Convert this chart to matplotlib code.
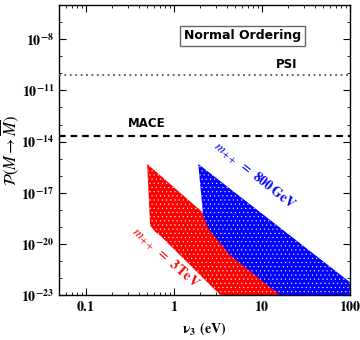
import numpy as np
import matplotlib
matplotlib.use("Agg")
import matplotlib.pyplot as plt
from matplotlib.ticker import FixedLocator, FuncFormatter, NullFormatter

plt.rcParams['mathtext.fontset'] = 'stix'
plt.rcParams['font.family'] = 'DejaVu Sans'
plt.rcParams['hatch.linewidth'] = 0.3

# boundaries of the allowed regions (v3 in eV, P)
red_v3 = [0.50, 0.54, 0.62, 0.70, 1.54, 2.74, 3.4, 25.0, 1.85]
red_P = [10**-15.31, 10**-18.92, 10**-19.3, 10**-19.5, 10**-21.25, 10**-22.53,
         1e-23, 1e-23, 10**-17.87]

blue_v3 = [1.9, 2.16, 2.47, 4.39, 16.2, 100, 100]
blue_P = [10**-15.31, 10**-18.34, 10**-19.1, 10**-20.67, 1e-23, 1e-23, 10**-22.24]

psi_bound = 8.5e-11
mace_bound = 2.1e-14

fig = plt.figure(figsize=(3.6, 3.4), dpi=100)
ax = fig.add_axes([0.164, 0.132, 0.808, 0.853])

ax.fill(red_v3, red_P, facecolor='#ff0000', edgecolor='white', hatch='....', lw=0, zorder=2)
ax.fill(blue_v3, blue_P, facecolor='#0000ff', edgecolor='white', hatch='....', lw=0, zorder=3)

ax.axhline(psi_bound, color='#555555', ls=(0, (1, 2)), lw=1.3, zorder=4)
ax.axhline(mace_bound, color='black', ls=(0, (3, 2.2)), lw=1.6, zorder=4)

ax.set_xscale('log')
ax.set_yscale('log')
ax.set_xlim(0.05, 100)
ax.set_ylim(1e-23, 1e-6)

ax.yaxis.set_major_locator(FixedLocator([10.0**k for k in range(-23, -7, 3)]))
ax.yaxis.set_minor_locator(FixedLocator([10.0**k for k in range(-23, -5)]))
ax.yaxis.set_minor_formatter(NullFormatter())
ax.yaxis.set_major_formatter(FuncFormatter(
    lambda v, p: r'$\mathbf{10^{%d}}$' % round(np.log10(v))))

ax.xaxis.set_major_locator(FixedLocator([0.1, 1, 10, 100]))
ax.xaxis.set_major_formatter(FuncFormatter(
    lambda v, p: r'$\mathbf{%s}$' % ('%g' % v)))

ax.tick_params(which='both', direction='in', top=True, right=True, labelsize=10)
ax.tick_params(which='major', length=5, width=0.8)
ax.tick_params(which='minor', length=2.5, width=0.6)
for s in ax.spines.values():
    s.set_linewidth(1.0)

ax.set_xlabel(r'$\mathbf{\nu_3}$ $\mathbf{(eV)}$', fontsize=10, labelpad=4)
ax.set_ylabel(r'$\mathcal{P}(M \rightarrow \overline{M})$', fontsize=12, labelpad=0)

ax.text(6.0, 10**-7.8, 'Normal Ordering', fontsize=9, fontweight='bold',
        ha='center', va='center',
        bbox=dict(boxstyle='square,pad=0.3', fc='white', ec='#666666', lw=1.0))
ax.text(19, 10**-9.5, 'PSI', fontsize=8.5, fontweight='bold', ha='center', va='center')
ax.text(0.5, 10**-12.92, 'MACE', fontsize=8.5, fontweight='bold', ha='center', va='center')

ax.text(8.2, 10**-16.0, r'$m_{++}$ $=$ $\mathbf{800\,GeV}$', color='#0000ff',
        fontsize=10, rotation=-38.5, ha='center', va='center', rotation_mode='anchor')
ax.text(0.8, 10**-20.85, r'$m_{++}$ $=$ $\mathbf{3\,TeV}$', color='#ff0000',
        fontsize=10, rotation=-41.5, ha='center', va='center', rotation_mode='anchor')

fig.savefig('out.png', dpi=100)
